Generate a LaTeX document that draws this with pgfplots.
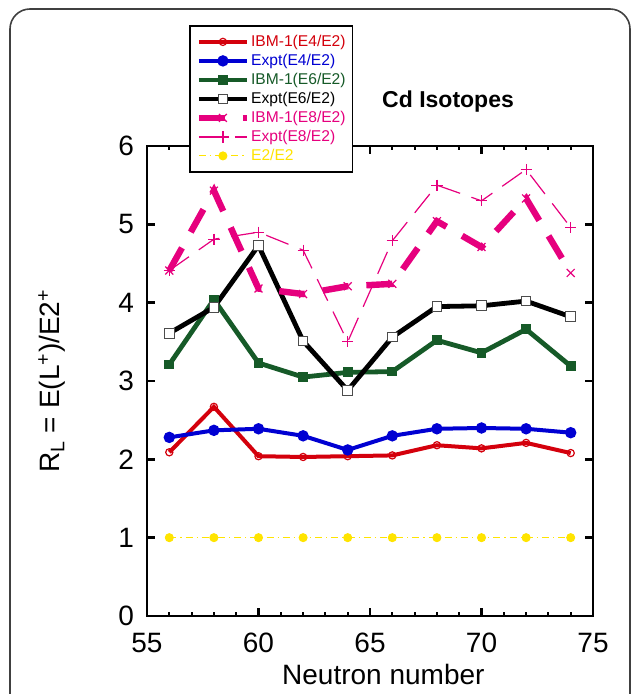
\documentclass[border=0pt]{standalone}
\usepackage{pgfplots}
\pgfplotsset{compat=1.18}
\usepackage{fontspec}
\setmainfont{Liberation Sans}

\definecolor{ibmred}{RGB}{212,0,12}
\definecolor{exblue}{RGB}{0,0,210}
\definecolor{ibmgreen}{RGB}{22,90,40}
\definecolor{pinkc}{RGB}{230,0,126}
\definecolor{yelc}{RGB}{255,228,0}

\begin{document}
\begin{tikzpicture}
\path[use as bounding box] (-73.5pt,-39pt) rectangle (243pt,308pt);
\begin{axis}[
  at={(0pt,0pt)}, anchor=south west,
  scale only axis, width=223pt, height=235pt,
  xmin=55, xmax=75, ymin=0, ymax=6,
  xtick={55,60,65,70,75}, ytick={0,1,2,3,4,5,6},
  minor x tick num=4,
  tick align=inside,
  major tick length=4pt, minor tick length=2pt,
  axis line style={line width=1.2pt},
  major tick style={line width=1.2pt, black},
  minor tick style={line width=1pt, black},
  /pgf/number format/assume math mode=true,
  tick label style={font=\fontsize{14}{16}\selectfont},
  xticklabel style={yshift=-5pt},
  yticklabel style={xshift=-3pt},
  label style={font=\fontsize{14}{16}\selectfont},
  xlabel={Neutron number},
  xlabel style={at={(axis description cs:0.53,-0.124)}, anchor=center},
  ylabel={R\textsubscript{L} = E(L\textsuperscript{+})/E2\textsuperscript{+}},
  ylabel style={at={(axis description cs:-0.213,0.5)}, anchor=center},
  clip=false,
  legend cell align=left,
  legend image code/.code={\draw[mark repeat=2,mark phase=2] plot coordinates {(0pt,0pt)(12pt,0pt)(24pt,0pt)};},
  legend style={at={(axis description cs:0.094,1.257)}, anchor=north west,
    draw=black, line width=0.8pt, fill=white,
    font=\fontsize{7.8}{9.5}\selectfont,
    inner xsep=3pt, inner ysep=3.2pt, row sep=0pt,
    nodes={inner sep=0.5pt, text height=6.4pt, text depth=2.1pt},
    /tikz/every even column/.append style={column sep=0.5pt}},
]
\addplot[color=ibmred, line width=2pt, mark=o, mark size=1.8pt,
  mark options={solid, line width=0.6pt, fill=white}] coordinates {
  (56,2.09) (58,2.67) (60,2.04) (62,2.03) (64,2.04) (66,2.05) (68,2.18) (70,2.14) (72,2.21) (74,2.08)};
\addlegendentry{\textcolor{ibmred}{IBM-1(E4/E2)}}
\addplot[color=exblue, line width=2pt, mark=*, mark size=1.8pt,
  mark options={solid}] coordinates {
  (56,2.28) (58,2.37) (60,2.39) (62,2.30) (64,2.12) (66,2.30) (68,2.39) (70,2.40) (72,2.39) (74,2.34)};
\addlegendentry{\textcolor{exblue}{Expt(E4/E2)}}
\addplot[color=ibmgreen, line width=2.4pt, mark=square*, mark size=2.2pt,
  mark options={solid, line width=0.5pt}] coordinates {
  (56,3.21) (58,4.04) (60,3.23) (62,3.05) (64,3.11) (66,3.12) (68,3.52) (70,3.36) (72,3.66) (74,3.19)};
\addlegendentry{\textcolor{ibmgreen}{IBM-1(E6/E2)}}
\addplot[color=black, line width=2.4pt, mark=square*, mark size=2.4pt,
  mark options={solid, line width=0.5pt, fill=white, draw=black!70}] coordinates {
  (56,3.61) (58,3.94) (60,4.73) (62,3.51) (64,2.88) (66,3.56) (68,3.95) (70,3.96) (72,4.02) (74,3.82)};
\addlegendentry{\textcolor{black}{Expt(E6/E2)}}
\addplot[color=pinkc, line width=3.2pt, dash pattern=on 13pt off 9pt, mark=x, mark size=2.8pt,
  mark options={solid, line width=0.6pt}] coordinates {
  (56,4.41) (58,5.43) (60,4.18) (62,4.11) (64,4.21) (66,4.24) (68,5.04) (70,4.71) (72,5.33) (74,4.38)};
\addlegendentry{\textcolor{pinkc}{IBM-1(E8/E2)}}
\addplot[color=pinkc, line width=0.6pt, dash pattern=on 12pt off 6pt, mark=+, mark size=2.8pt,
  mark options={solid, line width=0.6pt}] coordinates {
  (56,4.41) (58,4.81) (60,4.90) (62,4.67) (64,3.50) (66,4.79) (68,5.50) (70,5.30) (72,5.70) (74,4.96)};
\addlegendentry{\textcolor{pinkc}{Expt(E8/E2)}}
\addplot[color=yelc, line width=0.5pt, dash pattern=on 3.5pt off 2pt on 0.6pt off 2pt, mark=*, mark size=2pt,
  mark options={solid}] coordinates {
  (56,1) (58,1) (60,1) (62,1) (64,1) (66,1) (68,1) (70,1) (72,1) (74,1)};
\addlegendentry{\textcolor{yelc}{E2/E2}}
\node[font=\bfseries\fontsize{11.5}{13}\selectfont] at (rel axis cs:0.675,1.094) {Cd Isotopes};
\end{axis}
\draw[rounded corners=10pt, line width=0.8pt, black!75]
  (-68.5pt,-45pt) -- (-68.5pt,303.5pt) -- (241.5pt,303.5pt) -- (241.5pt,-45pt);
\end{tikzpicture}
\end{document}
